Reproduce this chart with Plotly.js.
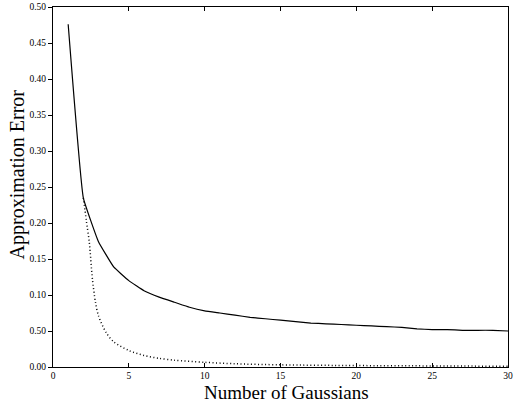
<!DOCTYPE html>
<html>
<head>
<meta charset="utf-8">
<script src="https://cdn.plot.ly/plotly-3.0.1.min.js"></script>
<style>html,body{margin:0;padding:0;background:#fff;}#chart{width:516px;height:405px;}</style>
</head>
<body>
<div id="chart"></div>
<script>
// Solid curve: error vs number of Gaussians
const solidX = [1,2,3,4,5,6,7,8,9,10,11,12,13,14,15,16,17,18,19,20,21,22,23,24,25,26,27,28,29,30];
const solidY = [0.476,0.235,0.174,0.139,0.120,0.106,0.097,0.090,0.083,0.078,0.075,0.072,0.069,0.067,0.065,0.063,0.061,0.060,0.059,0.058,0.057,0.056,0.055,0.053,0.052,0.052,0.051,0.051,0.051,0.050];
// Dotted curve
const dottedX = [2,2.2,2.4,2.6,2.8,3,3.5,4,5,6,7,8,10,12,15,20,25,30];
const dottedY = [0.235,0.203,0.172,0.122,0.090,0.071,0.048,0.035,0.023,0.016,0.012,0.0095,0.0065,0.0045,0.003,0.002,0.0015,0.001];
// Tick labels (as printed in the reference)
const yTickVals = [0,0.05,0.10,0.15,0.20,0.25,0.30,0.35,0.40,0.45,0.50];
const yTickText = ['0.00','0.50','0.10','0.15','0.20','0.25','0.30','0.35','0.40','0.45','0.50'];
const xTickVals = [0,5,10,15,20,25,30];
const xTitle = 'Number of Gaussians';
const yTitle = 'Approximation Error';

const font = 'Liberation Serif, Times New Roman, serif';
const traces = [
  {x: solidX, y: solidY, type:'scatter', mode:'lines', line:{color:'#000', width:1.2, shape:'spline', smoothing:0.3}, hoverinfo:'skip'},
  {x: dottedX, y: dottedY, type:'scatter', mode:'lines', line:{color:'#000', width:1.5, dash:'1px,2.5px', shape:'spline', smoothing:0.8}, hoverinfo:'skip'}
];
const layout = {
  width:516, height:405,
  margin:{l:53, r:8, t:7, b:38},
  paper_bgcolor:'#fff', plot_bgcolor:'#fff',
  showlegend:false,
  font:{family:font, color:'#000'},
  xaxis:{
    range:[0,30], tickvals:xTickVals, ticks:'inside', ticklen:4, tickcolor:'#000',
    showline:true, linecolor:'#000', linewidth:1, mirror:'ticks',
    showgrid:false, zeroline:false, tickfont:{size:9.5, family:font}
  },
  yaxis:{
    range:[0,0.5], tickvals:yTickVals, ticktext:yTickText, ticks:'outside', ticklen:4, tickcolor:'#000',
    showline:true, linecolor:'#000', linewidth:1, mirror:true,
    showgrid:false, zeroline:false, tickfont:{size:9.5, family:font}
  },
  annotations:[
    {text:xTitle, xref:'paper', yref:'paper', x:0.514, y:-0.072, xanchor:'center', yanchor:'middle',
     showarrow:false, font:{size:19, family:font, color:'#000'}},
    {text:yTitle, xref:'paper', yref:'paper', x:-0.079, y:0.535, xanchor:'center', yanchor:'middle',
     textangle:-90, showarrow:false, font:{size:20, family:font, color:'#000'}}
  ]
};
Plotly.newPlot('chart', traces, layout, {staticPlot:true, displayModeBar:false});
</script>
</body>
</html>
